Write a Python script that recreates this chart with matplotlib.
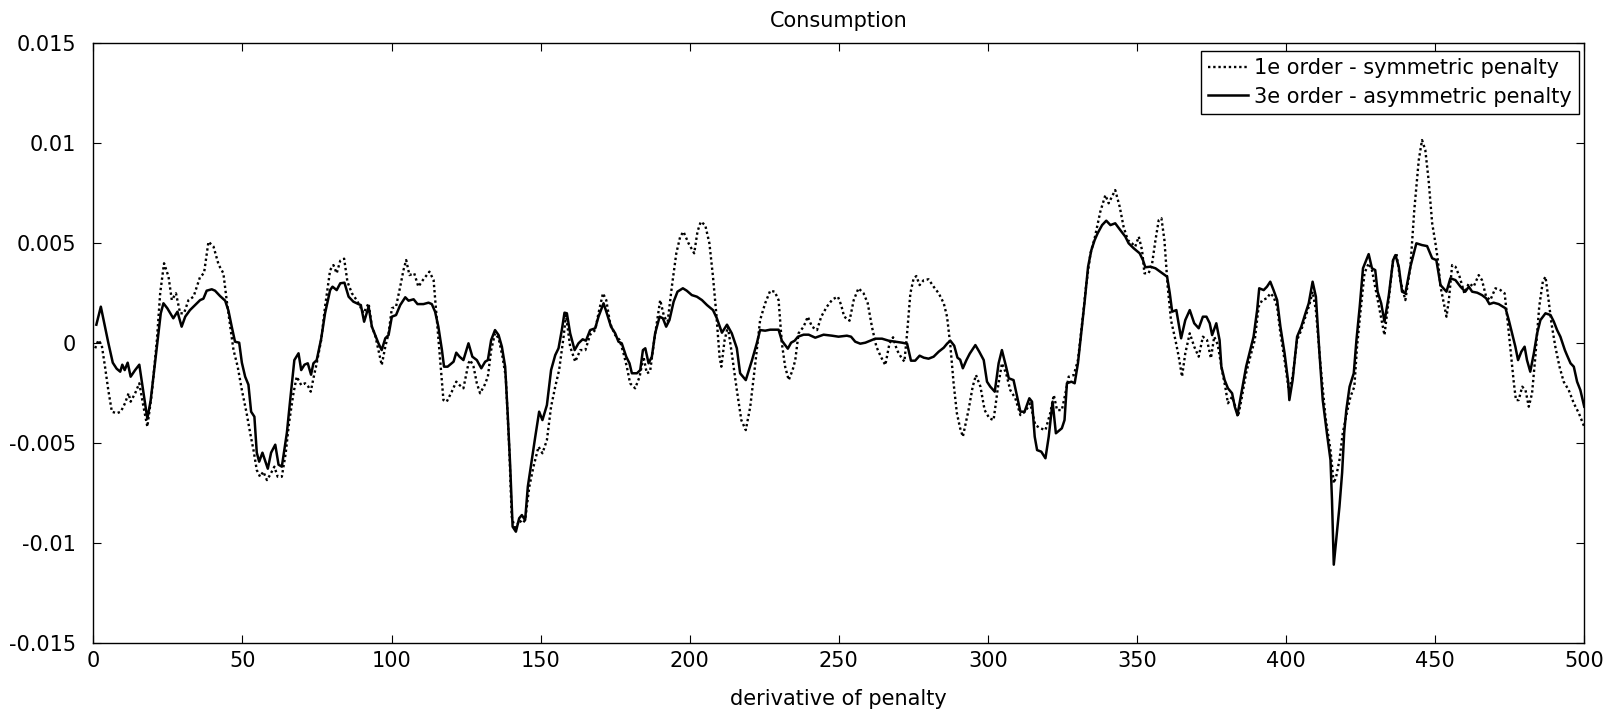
import numpy as np
import matplotlib
matplotlib.use("Agg")
import matplotlib.pyplot as plt

# ---- data (values in units of 1e-3) ----
x_asym = [1.0, 2.5, 3.9, 5.0, 6.5, 7.8, 9.0, 9.7, 10.5, 11.5, 12.5, 14.0, 15.4, 16.8, 18.1, 19.2, 21.3, 22.6, 23.5, 24.8,
          26.8, 28.2, 29.6, 30.8, 32.4, 34.1, 35.8, 36.9, 38.0, 39.7, 40.8, 42.5, 44.2, 45.3, 46.4, 47.5, 48.9, 49.8, 50.9, 52.0,
          52.9, 54.0, 54.8, 55.6, 56.7, 58.5, 59.6, 61.0, 62.1, 63.2, 64.9, 66.0, 67.4, 68.8, 69.7, 70.8, 71.9, 73.0, 73.8, 74.9,
          76.4, 77.7, 79.4, 80.2, 81.6, 82.8, 84.2, 85.6, 87.2, 88.9, 89.7, 90.8, 92.3, 93.4, 94.5, 95.6, 96.7, 97.9, 99.0, 100.1,
          101.5, 102.9, 104.6, 105.7, 107.4, 108.7, 110.7, 112.4, 113.5, 114.6, 115.7, 116.9, 117.6, 118.8, 120.8, 121.7, 122.8, 124.1, 125.8, 127.1,
          128.6, 130.1, 131.4, 132.3, 133.4, 134.7, 135.9, 137.0, 138.1, 139.0, 139.8, 140.6, 141.7, 142.8, 143.7, 144.8, 145.7, 147.1, 148.2, 149.5,
          150.6, 152.1, 153.5, 154.9, 156.0, 157.1, 158.0, 158.8, 159.9, 161.4, 162.7, 164.1, 165.2, 166.6, 168.3, 169.4, 171.1, 172.2, 173.6, 175.0,
          176.1, 177.2, 178.7, 179.8, 180.6, 182.3, 183.4, 184.3, 185.1, 186.2, 187.3, 188.4, 189.9, 191.0, 192.1, 193.2, 194.6, 195.9, 197.7, 199.0,
          200.7, 202.4, 204.1, 205.8, 207.8, 209.1, 210.8, 212.5, 214.1, 215.8, 216.9, 218.8, 220.9, 222.5, 223.6, 225.3, 227.0, 229.8, 230.9, 232.9,
          234.0, 235.2, 236.3, 238.2, 239.9, 242.1, 244.9, 247.7, 249.9, 252.7, 254.1, 255.5, 257.2, 258.9, 260.6, 262.2, 264.5, 266.7, 269.0, 271.2,
          272.9, 274.2, 275.6, 277.1, 278.5, 280.1, 281.8, 283.5, 285.2, 286.3, 287.4, 288.7, 289.8, 290.7, 291.6, 292.8, 293.9, 295.8, 297.1, 298.6,
          299.7, 300.8, 302.3, 303.6, 304.7, 306.1, 307.0, 308.6, 309.8, 310.9, 312.3, 313.9, 314.8, 315.7, 316.5, 317.9, 319.3, 320.4, 321.7, 322.8,
          324.8, 325.7, 326.5, 328.0, 329.1, 330.2, 331.3, 332.5, 333.6, 334.7, 335.8, 336.8, 338.3, 339.7, 341.1, 342.7, 344.4, 346.1, 347.2, 348.9,
          350.9, 352.0, 352.8, 354.5, 356.2, 357.8, 360.1, 361.0, 361.8, 363.2, 364.8, 366.2, 367.7, 369.2, 370.7, 372.1, 373.3, 374.4, 375.2, 376.6,
          377.7, 378.3, 379.4, 380.5, 381.9, 382.8, 383.7, 385.0, 386.6, 388.0, 389.1, 390.3, 391.0, 392.5, 393.6, 394.7, 395.8, 397.0, 398.1, 399.5,
          400.7, 401.1, 402.2, 403.7, 405.1, 406.5, 407.6, 408.9, 410.0, 411.2, 412.3, 413.7, 414.9, 415.4, 416.0, 416.8, 417.9, 418.8, 419.5, 420.2,
          421.3, 422.7, 423.6, 424.7, 425.8, 427.7, 428.8, 429.9, 430.7, 431.9, 433.0, 434.4, 435.9, 436.7, 437.8, 438.9, 440.0, 441.7, 443.7, 445.6,
          447.3, 449.0, 450.4, 451.8, 453.8, 455.1, 456.8, 458.5, 460.1, 461.3, 462.4, 464.1, 465.7, 467.1, 468.2, 469.6, 471.3, 473.6, 474.7, 475.8,
          476.9, 477.8, 478.9, 480.0, 480.8, 481.9, 483.1, 484.2, 485.3, 487.0, 488.7, 489.8, 490.9, 492.0, 493.5, 494.2, 495.4, 496.5, 497.6, 498.7,
          500.0]
y_asym = [0.9, 1.8, 0.8, 0.0, -1.0, -1.3, -1.45, -1.1, -1.37, -1.0, -1.7, -1.37, -1.1, -2.5, -3.8, -2.9, -0.2, 1.47, 1.97, 1.72,
          1.22, 1.55, 0.8, 1.3, 1.63, 1.88, 2.13, 2.2, 2.6, 2.67, 2.6, 2.33, 2.1, 1.6, 0.8, 0.05, 0.0, -1.0, -1.7, -2.1,
          -3.45, -3.7, -5.5, -5.95, -5.5, -6.3, -5.5, -5.1, -6.1, -6.2, -4.5, -2.87, -0.87, -0.53, -1.37, -1.1, -1.03, -1.6, -1.03, -0.87,
          0.2, 1.47, 2.63, 2.8, 2.63, 2.97, 3.0, 2.3, 2.05, 1.93, 1.88, 1.05, 1.8, 0.8, 0.38, -0.03, -0.37, 0.22, 0.38, 1.3,
          1.38, 1.88, 2.27, 2.1, 2.17, 1.93, 1.93, 2.0, 1.93, 1.55, 0.8, -0.37, -1.2, -1.2, -0.95, -0.5, -0.7, -0.87, -0.03, -0.7,
          -0.87, -1.28, -0.95, -0.87, 0.13, 0.63, 0.38, -0.2, -1.2, -3.7, -6.2, -9.2, -9.45, -8.78, -8.62, -8.87, -7.2, -5.78, -4.7, -3.45,
          -3.87, -3.12, -1.37, -0.62, -0.28, 0.63, 1.5, 1.47, 0.47, -0.37, -0.03, 0.17, 0.1, 0.63, 0.72, 1.3, 1.97, 1.47, 0.8, 0.47,
          0.05, -0.03, -0.7, -1.03, -1.53, -1.53, -1.37, -0.37, -0.28, -1.03, -0.7, 0.47, 1.3, 1.22, 0.8, 1.13, 2.05, 2.55, 2.72, 2.6,
          2.38, 2.3, 2.13, 1.88, 1.63, 1.22, 0.5, 0.9, 0.47, -0.28, -1.53, -1.87, -0.87, -0.03, 0.63, 0.6, 0.65, 0.65, 0.1, -0.3,
          0.0, 0.1, 0.3, 0.4, 0.4, 0.25, 0.4, 0.35, 0.3, 0.35, 0.3, 0.05, -0.05, 0.0, 0.1, 0.2, 0.2, 0.1, 0.05, 0.0,
          -0.05, -0.9, -0.9, -0.65, -0.75, -0.8, -0.7, -0.45, -0.25, -0.05, 0.1, -0.15, -0.75, -0.85, -1.28, -0.87, -0.55, -0.12, -0.45, -0.87,
          -1.95, -2.2, -2.45, -1.03, -0.37, -1.2, -1.78, -1.87, -2.7, -3.45, -3.45, -2.78, -2.95, -4.7, -5.37, -5.45, -5.78, -4.7, -2.95, -4.53,
          -4.28, -3.87, -2.03, -1.95, -2.03, -1.03, 0.47, 2.13, 3.8, 4.63, 5.13, 5.47, 5.88, 6.1, 5.88, 5.97, 5.63, 5.3, 4.97, 4.72,
          4.47, 4.13, 3.77, 3.8, 3.72, 3.55, 3.3, 2.47, 1.55, 1.63, 0.22, 1.13, 1.63, 0.97, 0.72, 1.3, 1.3, 0.97, 0.38, 0.97,
          0.13, -1.2, -1.87, -2.28, -2.53, -3.2, -3.62, -2.53, -1.2, -0.37, 0.3, 1.63, 2.72, 2.63, 2.8, 3.05, 2.63, 2.13, 0.8, -0.53,
          -1.95, -2.87, -1.87, 0.3, 0.8, 1.47, 1.97, 3.05, 2.3, -0.53, -2.87, -4.53, -5.87, -7.87, -11.1, -9.87, -8.2, -6.5, -4.5, -3.37,
          -2.2, -1.53, 0.13, 1.8, 3.72, 4.43, 3.72, 3.63, 2.55, 1.97, 1.05, 2.3, 4.13, 4.38, 3.8, 2.55, 2.47, 3.8, 4.97, 4.88,
          4.83, 4.22, 4.13, 2.88, 2.55, 3.22, 3.13, 2.8, 2.55, 2.8, 2.55, 2.5, 2.38, 2.22, 1.93, 2.0, 1.93, 1.72, 1.13, 0.47,
          -0.2, -0.87, -0.45, -0.2, -0.87, -1.45, -0.53, 0.47, 1.13, 1.47, 1.38, 1.05, 0.63, 0.3, -0.37, -0.62, -1.03, -1.2, -1.95, -2.37,
          -3.2]

x_sym = [0.6, 1.7, 2.8, 3.9, 5.0, 6.2, 7.8, 9.2, 10.6, 11.8, 12.5, 14.0, 15.4, 16.8, 18.1, 19.6, 21.3, 22.4, 23.7, 25.2,
         26.3, 27.7, 29.1, 30.4, 31.9, 33.6, 35.8, 37.1, 38.6, 40.3, 42.0, 43.6, 44.7, 45.9, 47.0, 48.4, 49.8, 51.4, 52.6, 53.7,
         54.8, 55.9, 57.0, 58.2, 59.3, 60.7, 61.8, 63.2, 64.5, 65.6, 67.1, 68.2, 69.7, 71.0, 72.1, 72.9, 73.8, 74.9, 76.4, 77.7,
         79.4, 80.5, 81.6, 82.8, 84.1, 85.2, 86.7, 88.3, 89.5, 90.6, 92.3, 93.4, 94.5, 95.6, 96.7, 97.9, 99.0, 100.1, 101.5, 102.9,
         104.0, 104.9, 106.0, 107.6, 109.0, 110.5, 112.7, 114.1, 115.2, 116.3, 117.4, 118.5, 120.2, 121.7, 122.8, 124.1, 125.8, 126.4, 127.5, 128.6,
         129.7, 131.2, 132.3, 133.4, 134.7, 135.9, 137.2, 138.3, 139.5, 140.3, 141.5, 142.8, 143.9, 144.8, 146.2, 147.6, 149.3, 150.6, 152.1, 153.5,
         154.9, 156.2, 157.7, 158.5, 159.9, 161.6, 163.3, 165.0, 166.6, 168.3, 169.4, 170.9, 172.0, 173.3, 175.0, 176.5, 177.8, 178.9, 180.0, 181.7,
         183.2, 184.5, 185.6, 186.7, 188.1, 190.1, 191.4, 192.6, 194.0, 195.5, 196.8, 197.9, 199.6, 201.5, 202.6, 203.7, 205.2, 206.6, 207.8, 208.9,
         210.0, 210.6, 211.7, 212.8, 214.1, 215.8, 217.3, 218.8, 220.3, 222.0, 223.6, 225.3, 227.0, 228.5, 229.8, 230.9, 232.0, 233.2, 234.5, 235.4,
         236.5, 238.2, 239.6, 241.0, 242.7, 244.1, 246.0, 247.9, 249.7, 250.8, 251.8, 253.6, 255.0, 256.6, 258.3, 259.7, 261.1, 262.6, 264.1, 265.6,
         267.0, 268.2, 269.5, 270.8, 272.0, 272.9, 274.0, 275.1, 276.0, 277.1, 278.5, 280.1, 281.8, 283.5, 285.2, 286.3, 287.4, 288.5, 289.6, 290.7,
         291.6, 292.8, 293.5, 294.9, 296.0, 297.5, 298.9, 300.5, 301.9, 303.4, 304.7, 306.1, 307.5, 309.2, 310.9, 312.5, 314.2, 315.9, 317.6, 319.3,
         320.9, 322.1, 323.2, 324.8, 326.0, 327.1, 328.8, 330.2, 331.6, 332.9, 334.4, 335.8, 337.7, 339.4, 340.5, 341.6, 342.7, 344.2, 345.5, 346.9,
         348.3, 349.4, 350.6, 351.7, 352.5, 353.9, 355.0, 356.2, 357.3, 358.2, 359.2, 360.3, 361.4, 362.9, 364.0, 365.1, 366.2, 367.7, 369.2, 370.7,
         372.1, 373.5, 374.8, 375.9, 377.1, 378.5, 379.6, 380.5, 381.9, 383.0, 383.9, 385.0, 386.6, 388.0, 389.5, 390.8, 392.0, 393.6, 394.7, 395.8,
         397.0, 398.1, 399.5, 400.9, 402.2, 403.7, 405.1, 406.5, 407.8, 408.9, 410.0, 411.5, 413.2, 414.9, 416.0, 416.8, 417.9, 419.0, 420.4, 421.6,
         422.9, 423.8, 424.9, 426.3, 427.7, 428.8, 430.3, 431.6, 433.0, 434.4, 435.9, 437.0, 438.3, 440.0, 441.7, 443.0, 444.5, 445.6, 446.7, 447.8,
         449.0, 450.1, 450.9, 451.8, 452.9, 453.8, 454.6, 455.7, 456.8, 458.2, 459.8, 461.3, 462.9, 464.6, 465.7, 467.1, 468.5, 470.2, 471.9, 473.3,
         474.5, 475.6, 476.4, 477.1, 478.0, 479.2, 480.3, 481.4, 482.5, 483.6, 484.9, 486.1, 487.0, 487.9, 489.0, 490.3, 491.7, 493.1, 494.8, 496.5,
         498.2, 500.0]
y_sym = [-0.28, 0.13, -0.12, -1.2, -2.37, -3.45, -3.53, -3.45, -3.03, -2.53, -2.95, -2.53, -2.03, -3.2, -4.2, -2.53, 0.13, 2.47, 3.97, 3.3,
         2.13, 2.47, 1.47, 1.47, 2.13, 2.3, 3.3, 3.47, 5.05, 4.8, 3.9, 3.47, 2.13, 0.8, -0.37, -1.2, -2.37, -3.53, -4.53, -5.37,
         -6.37, -6.7, -6.45, -6.87, -6.6, -6.2, -6.7, -6.7, -5.53, -4.03, -2.53, -1.7, -2.12, -2.03, -2.2, -2.45, -1.78, -1.03, 0.13, 1.8,
         3.63, 3.88, 3.47, 4.1, 4.2, 3.05, 2.47, 2.13, 1.8, 1.47, 1.97, 0.8, 0.38, -0.37, -1.12, -0.2, 0.47, 1.72, 1.8, 2.8,
         3.63, 4.13, 3.38, 3.47, 2.8, 3.13, 3.55, 3.13, 1.13, -0.87, -2.87, -2.95, -2.45, -1.95, -2.12, -2.28, -1.03, -0.87, -1.2, -2.03,
         -2.53, -2.12, -1.7, -0.37, 0.47, 0.22, -0.7, -1.7, -5.37, -8.7, -9.37, -8.87, -9.03, -8.87, -7.2, -6.2, -5.2, -5.53, -4.87, -3.2,
         -2.2, -1.37, 0.3, 1.38, -0.2, -0.95, -0.37, -0.37, 0.4, 0.63, 1.47, 2.47, 2.13, 0.97, 0.38, 0.13, -0.53, -1.2, -2.03, -2.28,
         -1.7, -0.7, -1.53, -1.45, 0.13, 2.13, 1.3, 1.05, 2.8, 4.47, 5.3, 5.55, 4.97, 4.47, 5.55, 6.05, 5.88, 4.97, 3.3, 1.47,
         -0.7, -1.2, 0.13, 0.8, -0.53, -2.37, -3.87, -4.37, -3.2, -1.03, 1.13, 1.97, 2.6, 2.55, 2.13, -0.03, -1.2, -1.87, -1.37, -0.87,
         0.47, 0.8, 1.3, 0.8, 0.63, 1.3, 1.8, 2.17, 2.3, 1.88, 1.3, 1.1, 2.13, 2.72, 2.47, 1.97, 0.8, -0.2, -0.7, -1.12,
         -0.03, 0.27, -0.37, -0.7, -0.95, 0.47, 2.47, 3.22, 3.33, 2.88, 3.13, 3.17, 2.8, 2.47, 1.97, 1.3, -0.12, -2.03, -3.53, -4.28,
         -4.7, -3.87, -3.37, -2.2, -1.62, -2.2, -3.37, -3.78, -3.87, -2.2, -1.03, -1.53, -2.37, -2.78, -3.62, -3.45, -3.03, -4.12, -4.28, -4.37,
         -3.53, -2.62, -3.37, -3.37, -2.53, -1.7, -1.62, -0.87, 0.97, 2.8, 4.47, 5.22, 6.55, 7.38, 6.97, 7.3, 7.63, 6.8, 5.8, 5.13,
         4.97, 4.8, 5.3, 4.63, 3.47, 3.47, 3.88, 5.13, 6.13, 6.22, 5.13, 2.8, 1.13, 0.13, -0.7, -1.7, -0.53, 0.47, -0.2, -0.7,
         0.3, 0.13, -0.78, 0.3, -0.1, -1.37, -2.2, -3.03, -2.7, -3.2, -3.7, -2.87, -1.53, -0.7, 0.13, 1.8, 2.13, 2.22, 2.47, 2.3,
         1.8, 0.47, -0.87, -2.37, -1.7, 0.13, 0.63, 1.3, 1.88, 2.55, 1.63, -1.03, -3.7, -5.37, -7.03, -6.7, -5.87, -4.53, -3.5, -2.7,
         -2.2, -0.2, 1.47, 3.47, 3.97, 3.63, 2.47, 1.47, 0.38, 2.13, 4.13, 4.47, 3.13, 2.13, 3.8, 6.63, 9.13, 10.13, 9.63, 8.13,
         5.97, 4.97, 4.13, 2.8, 1.97, 1.3, 2.13, 3.88, 3.8, 3.3, 2.47, 2.97, 2.8, 3.38, 3.13, 2.3, 2.13, 2.72, 2.63, 2.47,
         0.8, -0.87, -2.03, -2.87, -2.87, -2.2, -2.37, -3.2, -2.53, -0.7, 1.8, 3.05, 3.3, 2.3, 0.97, -0.2, -1.2, -1.95, -2.37, -3.03,
         -3.53, -4.2]

x_ticks = [0, 50, 100, 150, 200, 250, 300, 350, 400, 450, 500]
y_ticks = [-0.015, -0.01, -0.005, 0, 0.005, 0.01, 0.015]
y_tick_labels = ["-0.015", "-0.01", "-0.005", "0", "0.005", "0.01", "0.015"]
title_text = "Consumption"
xlabel_text = "derivative of penalty"
label_sym = "1e order - symmetric penalty"
label_asym = "3e order - asymmetric penalty"
scale = 1e-3

plt.rcParams['font.family'] = ['DejaVu Sans']
FS = 15

fig = plt.figure(figsize=(16.1, 7.14), dpi=100)
ax = fig.add_axes([0.058, 0.0999, 0.926, 0.8403])

ax.plot(x_sym, np.array(y_sym) * scale, color='black', lw=1.7,
        linestyle=(0, (1, 1.2)), label=label_sym)
ax.plot(x_asym, np.array(y_asym) * scale, color='black', lw=1.8,
        linestyle='-', label=label_asym)

ax.set_xlim(0, 500)
ax.set_ylim(-0.015, 0.015)
ax.set_xticks(x_ticks)
ax.set_xticklabels([str(v) for v in x_ticks])
ax.set_yticks(y_ticks)
ax.set_yticklabels(y_tick_labels)
ax.tick_params(direction='in', top=True, right=True, length=6, width=0.8,
               labelsize=FS)
ax.tick_params(axis='x', pad=6)
ax.tick_params(axis='y', pad=12.5)
for s in ax.spines.values():
    s.set_linewidth(1.0)

ax.set_title(title_text, fontsize=FS, pad=11)
ax.set_xlabel(xlabel_text, fontsize=FS, labelpad=13)

leg = ax.legend(loc='upper right', bbox_to_anchor=(0.9967, 0.9862),
                fontsize=FS, frameon=True, fancybox=False,
                edgecolor='black', framealpha=1, borderaxespad=0.0,
                handlelength=1.9, handletextpad=0.3, borderpad=0.35,
                labelspacing=0.4)
leg.get_frame().set_linewidth(1.0)

fig.savefig("out.png", dpi=100)
